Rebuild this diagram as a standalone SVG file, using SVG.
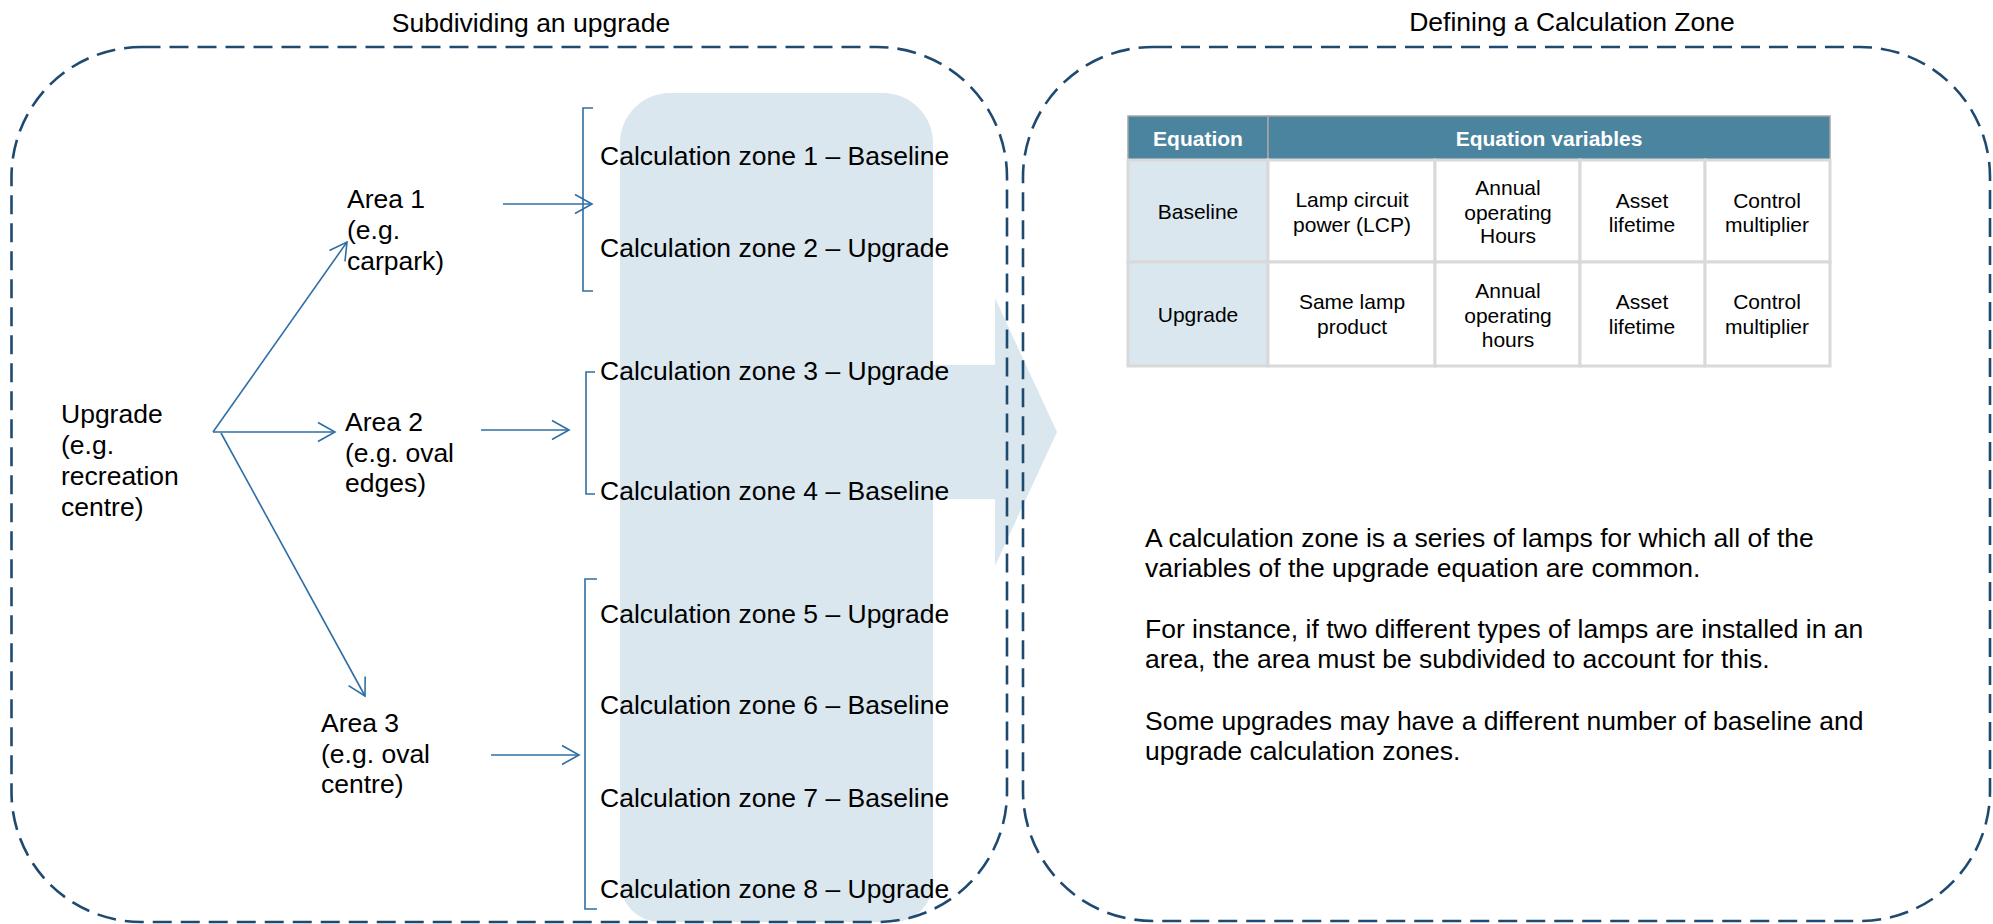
<svg xmlns="http://www.w3.org/2000/svg" width="1993" height="924" viewBox="0 0 1993 924">
<defs>
<style>
text{font-family:"Liberation Sans",Arial,sans-serif;fill:#000}
.t26{font-size:26.5px}
.tb{font-size:21px;text-anchor:middle}
.th{font-size:21px;font-weight:bold;fill:#fff;text-anchor:middle}
.dash{fill:none;stroke:#1F4A70;stroke-width:2.6;stroke-dasharray:19 9}
.con{fill:none;stroke:#2F6EA5;stroke-width:1.6}
.cell{fill:#fff;stroke:#D9D9D9;stroke-width:3}
.cellb{fill:#DAE7EF;stroke:#D9D9D9;stroke-width:3}
.hdr{fill:#4A849F;stroke:#A6A6A6;stroke-width:1.5}
</style>
<marker id="ah" markerUnits="userSpaceOnUse" markerWidth="24" markerHeight="24" viewBox="-20 -12 24 24" refX="0" refY="0" orient="auto">
<path d="M-17,-9.5 L0,0 L-17,9.5" fill="none" stroke="#2F6EA5" stroke-width="1.6"/>
</marker>
</defs>

<g id="background-shapes">
<path d="M620,143 A50,50 0 0 1 670,93 L883,93 A50,50 0 0 1 933,143 L933,882 A40,40 0 0 1 893,922 L660,922 A40,40 0 0 1 620,882 Z" fill="#DAE7EF"/>
<polygon points="933,365 995,365 995,298 1057,432 995,566 995,499 933,499" fill="#DAE7EF"/>
</g>

<g id="panel-left">
<rect class="dash" x="11.5" y="47" width="995.5" height="875" rx="130" ry="130"/>
<text class="t26" x="531" y="32" text-anchor="middle">Subdividing an upgrade</text>
</g>

<g id="panel-right">
<rect class="dash" x="1023" y="47" width="967" height="874" rx="130" ry="130"/>
<text class="t26" x="1572" y="31" text-anchor="middle">Defining a Calculation Zone</text>
</g>

<g id="node-upgrade">
<text class="t26" x="61" y="423">Upgrade</text>
<text class="t26" x="61" y="454">(e.g.</text>
<text class="t26" x="61" y="485">recreation</text>
<text class="t26" x="61" y="516">centre)</text>
</g>

<g id="node-area1">
<text class="t26" x="347" y="208">Area 1</text>
<text class="t26" x="347" y="239">(e.g.</text>
<text class="t26" x="347" y="270">carpark)</text>
</g>

<g id="node-area2">
<text class="t26" x="345" y="431">Area 2</text>
<text class="t26" x="345" y="462">(e.g. oval</text>
<text class="t26" x="345" y="492">edges)</text>
</g>

<g id="node-area3">
<text class="t26" x="321" y="732">Area 3</text>
<text class="t26" x="321" y="763">(e.g. oval</text>
<text class="t26" x="321" y="793">centre)</text>
</g>

<g id="zones">
<text class="t26" x="600" y="165">Calculation zone 1 – Baseline</text>
<text class="t26" x="600" y="257">Calculation zone 2 – Upgrade</text>
<text class="t26" x="600" y="380">Calculation zone 3 – Upgrade</text>
<text class="t26" x="600" y="500">Calculation zone 4 – Baseline</text>
<text class="t26" x="600" y="623">Calculation zone 5 – Upgrade</text>
<text class="t26" x="600" y="714">Calculation zone 6 – Baseline</text>
<text class="t26" x="600" y="807">Calculation zone 7 – Baseline</text>
<text class="t26" x="600" y="898">Calculation zone 8 – Upgrade</text>
</g>

<g id="connectors">
<line class="con" x1="213" y1="432" x2="347" y2="242" marker-end="url(#ah)"/>
<line class="con" x1="213" y1="432" x2="335" y2="432" marker-end="url(#ah)"/>
<line class="con" x1="221" y1="433" x2="365" y2="696" marker-end="url(#ah)"/>
<line class="con" x1="503" y1="204" x2="592" y2="204" marker-end="url(#ah)"/>
<line class="con" x1="481" y1="430" x2="569" y2="430" marker-end="url(#ah)"/>
<line class="con" x1="491" y1="755" x2="579" y2="755" marker-end="url(#ah)"/>
<path class="con" d="M593,108 L583,108 L583,291 L593,291"/>
<path class="con" d="M595,372 L586,372 L586,494 L595,494"/>
<path class="con" d="M597,579 L585,579 L585,909 L597,909"/>
</g>

<g id="table">
<rect class="hdr" x="1128" y="116" width="140" height="44"/>
<rect class="hdr" x="1268" y="116" width="562" height="44"/>
<text class="th" x="1198" y="146">Equation</text>
<text class="th" x="1549" y="146">Equation variables</text>

<rect class="cellb" x="1128" y="160" width="140" height="102"/>
<rect class="cell" x="1268" y="160" width="167" height="102"/>
<rect class="cell" x="1435" y="160" width="145" height="102"/>
<rect class="cell" x="1580" y="160" width="125" height="102"/>
<rect class="cell" x="1705" y="160" width="125" height="102"/>
<rect class="cellb" x="1128" y="262" width="140" height="104"/>
<rect class="cell" x="1268" y="262" width="167" height="104"/>
<rect class="cell" x="1435" y="262" width="145" height="104"/>
<rect class="cell" x="1580" y="262" width="125" height="104"/>
<rect class="cell" x="1705" y="262" width="125" height="104"/>

<text class="tb" x="1198" y="219">Baseline</text>
<text class="tb" x="1352" y="207">Lamp circuit</text>
<text class="tb" x="1352" y="232">power (LCP)</text>
<text class="tb" x="1508" y="195">Annual</text>
<text class="tb" x="1508" y="220">operating</text>
<text class="tb" x="1508" y="243">Hours</text>
<text class="tb" x="1642" y="208">Asset</text>
<text class="tb" x="1642" y="232">lifetime</text>
<text class="tb" x="1767" y="208">Control</text>
<text class="tb" x="1767" y="232">multiplier</text>

<text class="tb" x="1198" y="322">Upgrade</text>
<text class="tb" x="1352" y="309">Same lamp</text>
<text class="tb" x="1352" y="334">product</text>
<text class="tb" x="1508" y="298">Annual</text>
<text class="tb" x="1508" y="323">operating</text>
<text class="tb" x="1508" y="347">hours</text>
<text class="tb" x="1642" y="309">Asset</text>
<text class="tb" x="1642" y="334">lifetime</text>
<text class="tb" x="1767" y="309">Control</text>
<text class="tb" x="1767" y="334">multiplier</text>
</g>

<g id="description">
<text class="t26" x="1145" y="547">A calculation zone is a series of lamps for which all of the</text>
<text class="t26" x="1145" y="577">variables of the upgrade equation are common.</text>
<text class="t26" x="1145" y="638">For instance, if two different types of lamps are installed in an</text>
<text class="t26" x="1145" y="668">area, the area must be subdivided to account for this.</text>
<text class="t26" x="1145" y="730">Some upgrades may have a different number of baseline and</text>
<text class="t26" x="1145" y="760">upgrade calculation zones.</text>
</g>
</svg>
